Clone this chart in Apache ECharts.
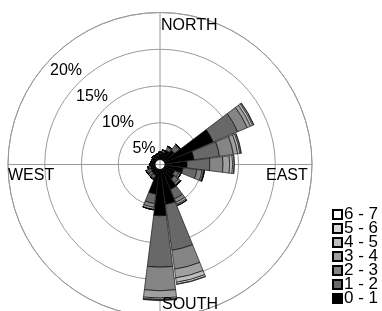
<!DOCTYPE html>
<html>
<head>
<meta charset="utf-8">
<script src="https://cdn.jsdelivr.net/npm/echarts@6/dist/echarts.min.js"></script>
<style>
html,body{margin:0;padding:0;background:#fff;}
#main{width:382px;height:311px;}
</style>
</head>
<body>
<div id="main"></div>
<script>
// 24 directions, 15 degrees each, clockwise from north
var directions = ['0','15','30','45','60','75','90','105','120','135','150','165',
                  '180','195','210','225','240','255','270','285','300','315','330','345'];
var speedClasses = ['0 - 1','1 - 2','2 - 3','3 - 4','4 - 5','5 - 6','6 - 7'];
var radiusTicks = [5, 10, 15, 20];
var compassNames = ['NORTH','EAST','SOUTH','WEST'];

// frequency (%) per speed class
var s01 = [0.8,1.0,1.4,1.8,7.2,4.0,3.0,2.5,1.5,1.8,3.0,4.8,6.3,3.4,0.9,0.8,0.7,0.6,0.5,0.5,0.5,0.6,0.6,0.6];
var s12 = [0.2,0.3,0.5,0.8,3.6,3.5,3.1,1.9,0.6,0.7,1.4,6.3,7.0,1.3,0.4,0.4,0.5,0.3,0.2,0.1,0.1,0.2,0.1,0.2];
var s23 = [0,0,0.1,0.2,1.4,1.9,1.8,0.7,0.3,0.3,0.5,2.6,3.2,0.5,0.2,0.2,0.2,0.1,0,0,0,0,0,0];
var s34 = [0,0,0,0,0.5,0.6,0.9,0.2,0,0.1,0.3,1.2,1.0,0.3,0,0,0,0,0,0,0,0,0,0];
var s45 = [0,0,0,0,0.3,0.3,0.4,0.1,0,0,0.15,0.6,0.2,0.05,0,0,0,0,0,0,0,0,0,0];
var s56 = [0,0,0,0,0.15,0.15,0.2,0.03,0,0,0.05,0.25,0.1,0,0,0,0,0,0,0,0,0,0,0];
var s67 = [0,0,0,0,0.05,0.05,0.05,0,0,0,0,0.05,0.05,0,0,0,0,0,0,0,0,0,0,0];

var classData = [s01, s12, s23, s34, s45, s56, s67];
var classColors = ['#000000','#686868','#858585','#a0a0a0','#bdbdbd','#d6d6d6','#ffffff'];

var FONT = '"Liberation Sans", Arial, sans-serif';
var center = [160, 164.5];
var gridColor = '#9a9a9a';

var series = speedClasses.map(function (name, i) {
  return {
    type: 'bar',
    name: name,
    coordinateSystem: 'polar',
    polarIndex: 0,
    stack: 'wind',
    barCategoryGap: '5%',
    itemStyle: { color: classColors[i], borderColor: '#000', borderWidth: 0.6 },
    data: classData[i]
  };
});

var option = {
  animation: false,
  polar: [
    { center: center, radius: [5, 152] },   // bars + rings
    { center: center, radius: [0, 152] },   // cross lines
    { center: center, radius: [5, 152] }    // ring labels along 135 deg
  ],
  angleAxis: [
    {
      polarIndex: 0, type: 'category', data: directions,
      startAngle: 97.5, clockwise: true,
      axisLine: { lineStyle: { color: gridColor, width: 1 } },
      axisTick: { show: false }, axisLabel: { show: false }, splitLine: { show: false }
    },
    {
      polarIndex: 1, type: 'value', min: 0, max: 360, interval: 90, startAngle: 90,
      axisLine: { show: false }, axisTick: { show: false }, axisLabel: { show: false },
      splitLine: { show: true, lineStyle: { color: gridColor, width: 1 } }
    },
    {
      polarIndex: 2, type: 'value', min: 0, max: 360, startAngle: 135,
      axisLine: { show: false }, axisTick: { show: false }, axisLabel: { show: false },
      splitLine: { show: false }
    }
  ],
  radiusAxis: [
    {
      polarIndex: 0, min: 0, max: 20, interval: 5,
      axisLine: { show: false }, axisTick: { show: false }, axisLabel: { show: false },
      splitLine: { show: true, lineStyle: { color: gridColor, width: 1 } }
    },
    {
      polarIndex: 1, min: 0, max: 20,
      axisLine: { show: false }, axisTick: { show: false }, axisLabel: { show: false },
      splitLine: { show: false }
    },
    {
      // labels sit just inside their ring
      polarIndex: 2, min: 2.6, max: 22.6, z: 1,
      axisLine: { show: false }, axisTick: { show: false }, splitLine: { show: false },
      axisLabel: {
        customValues: radiusTicks,
        formatter: '{value}%',
        margin: 0, align: 'center', verticalAlign: 'middle',
        color: '#000', fontSize: 16, fontFamily: FONT,
        backgroundColor: '#fff', padding: [0, 1]
      }
    }
  ],
  legend: {
    orient: 'vertical',
    left: 332, top: 206, padding: 0,
    data: speedClasses.slice().reverse(),
    icon: 'rect',
    itemWidth: 9, itemHeight: 9, itemGap: -3,
    selectedMode: false,
    textStyle: { color: '#000', fontSize: 17, fontFamily: FONT, padding: [0, 0, 0, -3] }
  },
  graphic: [
    { type: 'text', left: 161, top: 18, z: 100, style: { text: compassNames[0], fill: '#000', fontSize: 16, fontFamily: FONT } },
    { type: 'text', left: 266, top: 168, z: 100, style: { text: compassNames[1], fill: '#000', fontSize: 16, fontFamily: FONT } },
    { type: 'text', left: 162, top: 297, z: 100, style: { text: compassNames[2], fill: '#000', fontSize: 16, fontFamily: FONT } },
    { type: 'text', left: 8, top: 168, z: 100, style: { text: compassNames[3], fill: '#000', fontSize: 16, fontFamily: FONT } }
  ],
  series: series
};

var myChart = echarts.init(document.getElementById('main'));
myChart.setOption(option);
</script>
</body>
</html>
